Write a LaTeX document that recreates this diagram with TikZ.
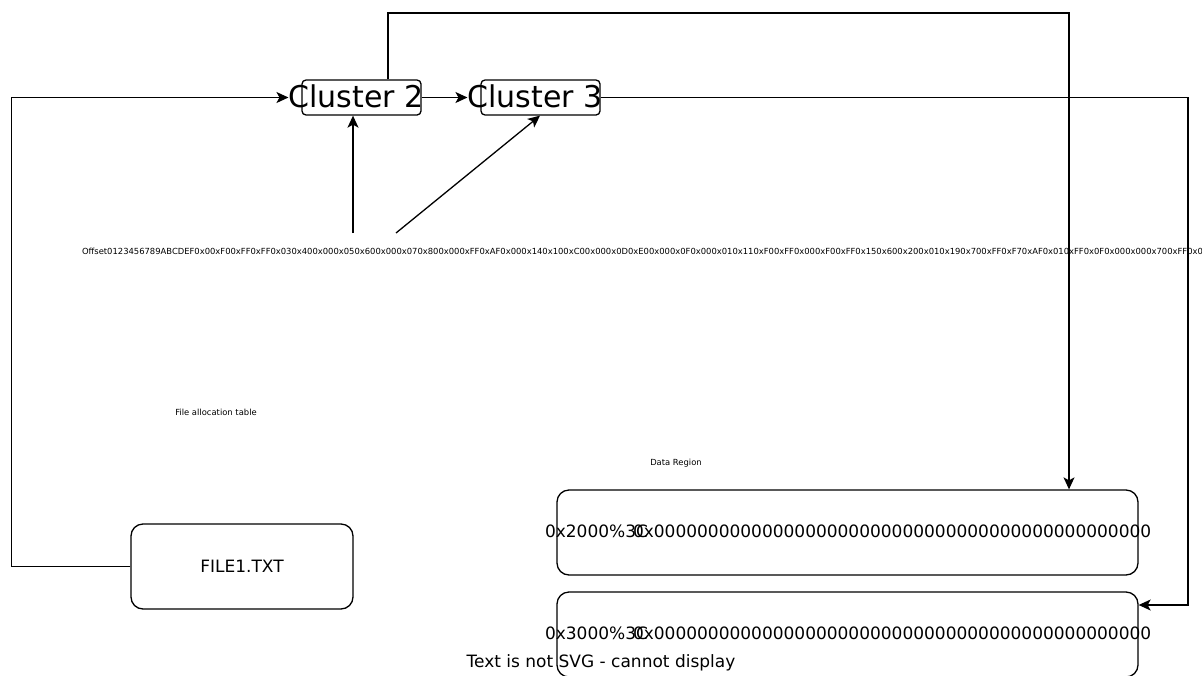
\documentclass[tikz,border=0pt]{standalone}
\usepackage{fontspec}
\setmainfont{DejaVu Sans}
\usetikzlibrary{arrows.meta,calc}
\tikzset{
  box/.style={draw,line width=1.3pt,rounded corners=12pt,inner sep=0pt},
  cbox/.style={draw,line width=1.3pt,rounded corners=4pt,inner sep=0pt,minimum width=119pt,minimum height=35pt},
  txt/.style={inner sep=0pt,outer sep=0pt},
  arr/.style={line width=1.3pt,-{Stealth[length=12pt,width=11pt,inset=3pt]}},
  big/.style={font=\fontsize{30}{34}\selectfont},
  mid/.style={font=\fontsize{17}{20}\selectfont},
  tiny/.style={font=\fontsize{8.4}{10}\selectfont}
}
\begin{document}
\begin{tikzpicture}[x=1pt,y=-1pt]
\useasboundingbox (0,0) rectangle (1202,675);
\clip (0,0) rectangle (1202,675);
% boxes
\node[cbox] (c2box) at (361.5,97.5) {};
\node[cbox] (c3box) at (540.5,97.5) {};
\node[box,minimum width=222pt,minimum height=85pt] (file) at (242,566.5) {};
\node[box,minimum width=581pt,minimum height=85pt] (d1) at (847.5,532.5) {};
\node[box,minimum width=581pt,minimum height=85pt] (d2) at (847.5,634.5) {};
% texts
\node[txt,big] (c2txt) at (356,96) {Cluster 2};
\node[txt,big] (c3txt) at (535,96) {Cluster 3};
\node[txt,mid] (filetxt) at (242,566) {FILE1.TXT};
\node[txt,mid,anchor=west] (d1a) at (545,531) {0x2000\%3C};
\node[txt,mid,anchor=west] (d1b) at (633,531) {0x0000000000000000000000000000000000000000000000};
\node[txt,mid,anchor=west] (d2a) at (545,633) {0x3000\%3C};
\node[txt,mid,anchor=west] (d2b) at (633,633) {0x0000000000000000000000000000000000000000000000};
\node[txt,tiny,anchor=west] (offs) at (82,251) {Offset0123456789ABCDEF0x00xF00xFF0xFF0x030x400x000x050x600x000x070x800x000xFF0xAF0x000x140x100xC00x000x0D0xE00x000x0F0x000x010x110xF00xFF0x000xF00xFF0x150x600x200x010x190x700xFF0xF70xAF0x010xFF0x0F0x000x000x700xFF0x0F};
\node[txt,tiny] (fat) at (216,412) {File allocation table};
\node[txt,tiny] (dr) at (676,463) {Data Region};
\node[txt,mid] (nosvg) at (601,663) {Text is not SVG - cannot display};
% connectors
\coordinate (a1) at (353,233);
\coordinate (a2) at (396,233);
\draw[arr] (file.west) -- ++(-119,0) |- (c2txt.west |- c2box.east);
\draw[arr] (c2box.east) -- (c3txt.west |- c2box.east);
\draw[arr] ([xshift=26.5pt]c2box.north) |- (1069,13) -- ([xshift=221.5pt]d1.north);
\draw[arr] (c3box.east) -- (1188,97.5) |- ([yshift=29.5pt]d2.east);
\draw[arr] (a1) -- (a1 |- c2box.south);
\draw[arr] (a2) -- ([xshift=-0.5pt]c3box.south);
\end{tikzpicture}
\end{document}
